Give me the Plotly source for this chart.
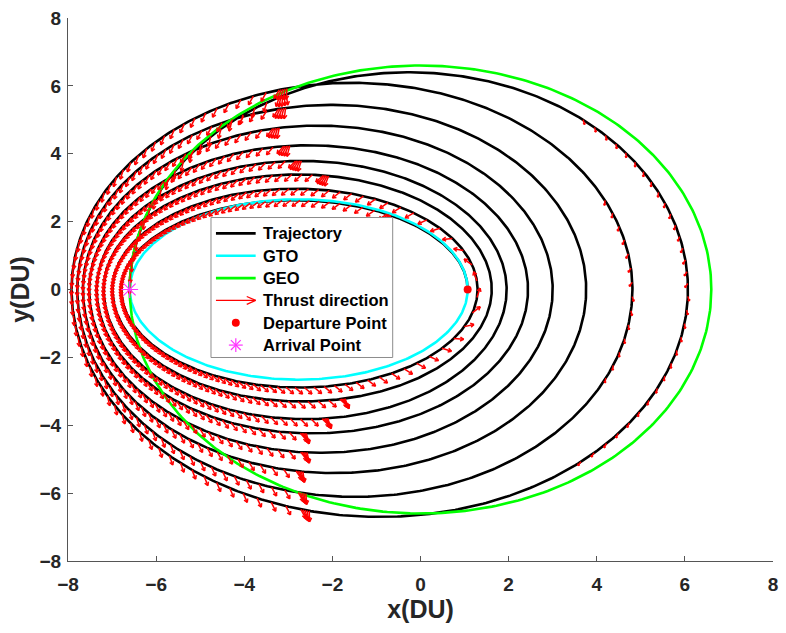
import numpy as np
import plotly.graph_objects as go

# ---------------- data (DU) ----------------
geo_radius = 6.6
gto_perigee_x = 1.07
gto_apogee_x = -6.6
# trajectory crossings of the x axis (right = perigee side, left = apogee side)
right_cross = [1.07, 1.295, 1.617, 1.955, 2.44, 3.0, 3.76, 4.81, 6.07]
left_cross = [-6.79, -6.99, -7.19, -7.35, -7.52, -7.66, -7.79, -7.92, -6.6]
# half-height of each upper / lower half revolution
upper_height = [2.63, 2.97, 3.39, 3.79, 4.25, 4.83, 5.44, 6.09, 6.40]
lower_height = [2.89, 3.30, 3.82, 4.24, 4.81, 5.41, 6.11, 6.70]
# thrust arcs on apogee side: arrows where x < limit
upper_left_limit = [-0.5, 1.5, -2.2, -2.7, -3.0, -3.1, -3.15, -3.15, -3.1]
lower_left_limit = [1.5, -1.6, -2.15, -2.5, -2.7, -2.75, -2.7, -2.5]
# thrust arcs on perigee side: arrows where x > limit
upper_right_limit = [None, None, None, None, None, None, None, 4.1, 3.45]
lower_right_limit = [None, None, None, None, None, None, 4.2, 3.6]
departure_pt = (1.07, 0.0)
arrival_pt = (-6.6, 0.0)
axis_ticks = [-8, -6, -4, -2, 0, 2, 4, 6, 8]
legend_names = ["Trajectory", "GTO", "GEO", "Thrust direction",
                "Departure Point", "Arrival Point"]

# ---------------- layout geometry ----------------
W, H = 786, 633
ML, MR, MT, MB = 68, 8, 14, 72
PW, PH = W - ML - MR, H - MT - MB
kx = PW / 16.0   # px per DU
ky = PH / 16.0

C_TRAJ, C_GTO, C_GEO, C_THR, C_DEP, C_ARR = "black", "#00FFFF", "#00FF00", "#FF0000", "#FF0000", "#FF33FF"


def half_arc(xr, xl, b, upper, n=300):
    c = 0.5 * (xr + xl)
    a = 0.5 * (xr - xl)
    t = np.linspace(0, np.pi, n) if upper else np.linspace(np.pi, 2 * np.pi, n)
    return c + a * np.cos(t), b * np.sin(t)


arcs = []  # (xr, xl, b, upper, left_lim, right_lim)
for k in range(len(upper_height)):
    arcs.append((right_cross[k], left_cross[k], upper_height[k], True,
                 upper_left_limit[k], upper_right_limit[k]))
    if k < len(lower_height):
        arcs.append((right_cross[k + 1], left_cross[k], lower_height[k], False,
                     lower_left_limit[k], lower_right_limit[k]))

tx, ty = [], []
for xr, xl, b, up, _, _ in arcs:
    x, y = half_arc(xr, xl, b, up)
    tx.extend(x.tolist())
    ty.extend(y.tolist())

# thrust arrows, sampled uniformly in mean anomaly
N_PER_REV = 120
ax_, ay_ = [], []


def add_arrow(x0, y0, vx, vy, rot_deg, L):
    px, py = vx * kx, vy * ky
    n = np.hypot(px, py)
    px, py = px / n, py / n
    r = np.radians(rot_deg)
    ux = px * np.cos(r) - py * np.sin(r)
    uy = px * np.sin(r) + py * np.cos(r)
    x1 = x0 + ux * L / kx
    y1 = y0 + uy * L / ky
    ax_.extend([x0, x1, None])
    ay_.extend([y0, y1, None])
    hl = 0.4 * L
    for s in (1, -1):
        hr = np.radians(180 + s * 30)
        hx = ux * np.cos(hr) - uy * np.sin(hr)
        hy = ux * np.sin(hr) + uy * np.cos(hr)
        ax_.extend([x1, x1 + hx * hl / kx, None])
        ay_.extend([y1, y1 + hy * hl / ky, None])


for xr, xl, b, up, llim, rlim in arcs:
    c = 0.5 * (xr + xl)
    a = 0.5 * (xr - xl)
    e = min(abs(c) / a, 0.9)
    M0, M1 = (0.0, np.pi) if up else (np.pi, 2 * np.pi)
    dM = 2 * np.pi / N_PER_REV
    boundary = None
    for M in np.arange(M0 + dM / 2, M1, dM):
        E = M
        for _ in range(30):
            E = E - (E - e * np.sin(E) - M) / (1 - e * np.cos(E))
        x0, y0 = c + a * np.cos(E), b * np.sin(E)
        vx, vy = -a * np.sin(E), b * np.cos(E)
        th = np.arctan2(y0, x0)
        if x0 < llim:
            add_arrow(x0, y0, vx, vy, 55 * np.sin(th), 10)
            if boundary is None or x0 > boundary[0]:
                boundary = (x0, E, th)
        elif rlim is not None and x0 > rlim:
            add_arrow(x0, y0, -vx, -vy, -40 if y0 > 0 else 20, 5)
    # cluster of arrows where the thrust arc switches
    if boundary is not None and llim < 1.0:
        _, E, th = boundary
        step = -0.007 if up else 0.007
        for i in range(1, 5):
            Ei = E + i * step
            x0, y0 = c + a * np.cos(Ei), b * np.sin(Ei)
            vx, vy = -a * np.sin(Ei), b * np.cos(Ei)
            add_arrow(x0, y0, vx, vy, 55 * np.sin(th) + (7 * i if up else -7 * i), 11)

# GTO and GEO
tt = np.linspace(0, 2 * np.pi, 400)
gc = 0.5 * (gto_perigee_x + gto_apogee_x)
ga = 0.5 * (gto_perigee_x - gto_apogee_x)
gb = np.sqrt(gto_perigee_x * -gto_apogee_x)
gto_x = gc + ga * np.cos(tt)
gto_y = gb * np.sin(tt)
geo_x = geo_radius * np.cos(tt)
geo_y = geo_radius * np.sin(tt)

FONT = "Liberation Sans"
fig = go.Figure()
fig.add_trace(go.Scatter(x=tx, y=ty, mode="lines", name=legend_names[0],
                         line=dict(color=C_TRAJ, width=2.6), showlegend=False))
fig.add_trace(go.Scatter(x=gto_x, y=gto_y, mode="lines", name=legend_names[1],
                         line=dict(color=C_GTO, width=2.6), showlegend=False))
fig.add_trace(go.Scatter(x=geo_x, y=geo_y, mode="lines", name=legend_names[2],
                         line=dict(color=C_GEO, width=2.6), showlegend=False))
fig.add_trace(go.Scatter(x=ax_, y=ay_, mode="lines", name=legend_names[3],
                         line=dict(color=C_THR, width=1.5), showlegend=False))
fig.add_trace(go.Scatter(x=[departure_pt[0]], y=[departure_pt[1]], mode="markers",
                         name=legend_names[4], showlegend=False,
                         marker=dict(color=C_DEP, size=8, symbol="circle")))
fig.add_trace(go.Scatter(x=[arrival_pt[0]], y=[arrival_pt[1]], mode="markers",
                         name=legend_names[5], showlegend=False,
                         marker=dict(color=C_ARR, size=14, symbol="asterisk-open",
                                     line=dict(color=C_ARR, width=1.2))))

# ---------------- legend box (drawn in paper coordinates) ----------------
def px2paper(px, py):
    return (px - ML) / PW, (H - MB - py) / PH


shapes = []
bx0, by0 = px2paper(212, 215)
bx1, by1 = px2paper(395, 356)
shapes.append(dict(type="rect", xref="paper", yref="paper", x0=bx0, y0=by1, x1=bx1, y1=by0,
                   fillcolor="white", line=dict(color="#8c8c8c", width=1), layer="above"))
row_y = [231, 253.5, 276, 298.5, 321, 343.5]
LX0, LX1, TX = 217, 257, 262


def seg(xa, ya, xb, yb, color, width):
    p0 = px2paper(xa, ya)
    p1 = px2paper(xb, yb)
    shapes.append(dict(type="line", xref="paper", yref="paper", x0=p0[0], y0=p0[1],
                       x1=p1[0], y1=p1[1], line=dict(color=color, width=width), layer="above"))


seg(LX0, row_y[0], LX1, row_y[0], C_TRAJ, 2.6)
seg(LX0, row_y[1], LX1, row_y[1], C_GTO, 2.6)
seg(LX0, row_y[2], LX1, row_y[2], C_GEO, 2.6)
seg(LX0, row_y[3], LX1, row_y[3], C_THR, 1.2)
seg(LX1, row_y[3], LX1 - 9, row_y[3] - 4, C_THR, 1.2)
seg(LX1, row_y[3], LX1 - 9, row_y[3] + 4, C_THR, 1.2)
cxm = 0.5 * (LX0 + LX1)
d0 = px2paper(cxm - 4, row_y[4] - 4)
d1 = px2paper(cxm + 4, row_y[4] + 4)
shapes.append(dict(type="circle", xref="paper", yref="paper", x0=d0[0], y0=d1[1], x1=d1[0], y1=d0[1],
                   fillcolor=C_DEP, line=dict(color=C_DEP, width=0), layer="above"))
for ang in (0, 45, 90, 135):
    rr = 7
    dx, dy = rr * np.cos(np.radians(ang)), rr * np.sin(np.radians(ang))
    seg(cxm - dx, row_y[5] - dy, cxm + dx, row_y[5] + dy, C_ARR, 1.2)

annotations = []
for name, yy in zip(legend_names, row_y):
    p = px2paper(TX, yy)
    annotations.append(dict(x=p[0], y=p[1], xref="paper", yref="paper", text=name,
                            showarrow=False, xanchor="left", yanchor="middle",
                            font=dict(family=FONT, size=16.5, color="black", weight="bold")))

axis_common = dict(range=[-8, 8], tickvals=axis_ticks, showgrid=False, zeroline=False,
                   showline=True, linecolor="#555555", linewidth=1, ticks="inside",
                   ticklen=5, tickcolor="#555555", mirror=False,
                   tickfont=dict(family=FONT, size=19, color="#262626", weight="bold"))
fig.update_xaxes(**axis_common, ticklabelstandoff=6,
                 title=dict(text="x(DU)", standoff=4,
                            font=dict(family=FONT, size=25, color="#262626", weight="bold")))
fig.update_yaxes(**axis_common, ticklabelstandoff=2,
                 title=dict(text="y(DU)", standoff=2,
                            font=dict(family=FONT, size=25, color="#262626", weight="bold")))

fig.update_layout(
    width=W, height=H, margin=dict(l=ML, r=MR, t=MT, b=MB),
    plot_bgcolor="white", paper_bgcolor="white", showlegend=False,
    shapes=shapes, annotations=annotations,
)
fig.write_html("out.html")
